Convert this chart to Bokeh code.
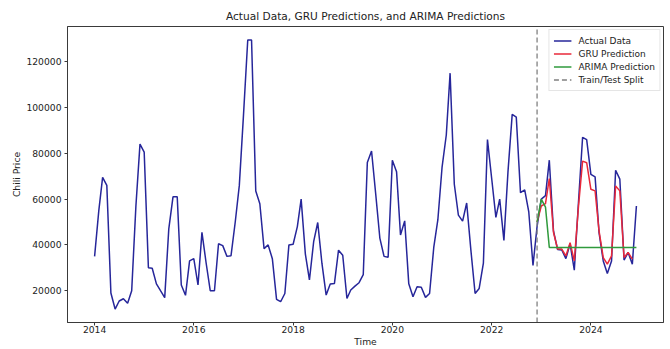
import pandas as pd
from bokeh.plotting import figure
from bokeh.models import (Range1d, FixedTicker, DatetimeTickFormatter,
                          NumeralTickFormatter, Legend, LegendItem)
from bokeh.embed import file_html
from bokeh.resources import INLINE

# Monthly chili price series, Jan 2014 - Dec 2024
first_month = "2014-01-01"
actual_price = [
    35000, 55000, 69500, 66000, 19000, 12000, 15500, 16500, 14500, 20000, 57000, 84000,
    80500, 30000, 29800, 23000, 20000, 17000, 47000, 61000, 61000, 22500, 18000, 33000,
    34000, 22500, 45500, 32000, 20000, 20000, 40500, 39700, 35000, 35300, 50000, 66000,
    97000, 129500, 129500, 63500, 58000, 38400, 40000, 34000, 16200, 15200, 18800, 40000,
    40300, 48000, 60000, 36000, 24700, 41400, 49800, 31900, 18100, 22900, 23200, 37700,
    35500, 16600, 20300, 22000, 23500, 27000, 76000, 81000, 62000, 43000, 35000, 34600,
    77000, 72000, 44300, 50500, 23000, 17400, 21700, 21500, 17100, 18800, 39000, 51000,
    74000, 88000, 115000, 66500, 53000, 50400, 58300, 37700, 18800, 21000, 32000, 86000,
    69000, 52000, 60000, 42000, 72000, 97000, 95800, 62800, 64000, 54400, 31000, 48000,
    60000, 61500, 77000, 46000, 38000, 37800, 34000, 40500, 29000, 58000, 87000, 86000,
    70800, 69700, 45400, 33000, 27500, 33000, 72600, 68700, 33400, 36700, 31600, 57000,
]

# Test-period forecasts
forecast_start = "2022-12-01"
gru_prediction = [
    50000, 57000, 58000, 69000, 45400, 38200, 38200, 35200, 41000, 33000, 56300, 76600,
    75900, 64300, 63600, 46100, 34500, 31600, 35200, 65700, 63600, 34500, 36700, 33800,
]
arima_prediction = [
    50000, 60000, 56500, 38900, 38900, 38900, 38900, 38900, 38900, 38900, 38900, 38900,
    38900, 38900, 38900, 38900, 38900, 38900, 38900, 38900, 38900, 38900, 38900, 38900,
    38900,
]

split_date = "2022-12-01"
year_ticks = [2014, 2016, 2018, 2020, 2022, 2024]
price_ticks = [20000, 40000, 60000, 80000, 100000, 120000]

dates = pd.date_range(first_month, periods=len(actual_price), freq="MS")
gru_dates = pd.date_range(forecast_start, periods=len(gru_prediction), freq="MS")
arima_dates = pd.date_range(forecast_start, periods=len(arima_prediction), freq="MS")

# 5% padding around the data on both axes
x_pad = (dates[-1] - dates[0]) * 0.05
x_lo, x_hi = dates[0] - x_pad, dates[-1] + x_pad
y_min, y_max = min(actual_price), max(actual_price)
y_pad = (y_max - y_min) * 0.05
y_lo, y_hi = y_min - y_pad, y_max + y_pad

FONT = "DejaVu Sans"
INK = "#222222"
FRAME = "#3a3a3a"

p = figure(width=670, height=349, x_axis_type="datetime",
           output_backend="svg", toolbar_location=None,
           x_range=Range1d(x_lo, x_hi), y_range=Range1d(y_lo, y_hi),
           min_border_left=67, min_border_right=7,
           min_border_top=26, min_border_bottom=26,
           background_fill_color="white", border_fill_color="white")

p.title.text = "Actual Data, GRU Predictions, and ARIMA Predictions"
p.title.align = "center"
p.title.text_font = FONT
p.title.text_font_size = "10.6px"
p.title.text_font_style = "normal"
p.title.text_color = INK

p.xgrid.visible = False
p.ygrid.visible = False
p.outline_line_color = FRAME
p.outline_line_width = 1

p.xaxis.ticker = FixedTicker(ticks=[pd.Timestamp(f"{y}-01-01").timestamp() * 1000
                                    for y in year_ticks])
p.xaxis.formatter = DatetimeTickFormatter(years="%Y", months="%Y", days="%Y",
                                          hours="%Y", minutes="%Y")
p.yaxis.ticker = FixedTicker(ticks=price_ticks)
p.yaxis.formatter = NumeralTickFormatter(format="0")
p.xaxis.axis_label = "Time"
p.yaxis.axis_label = "Chili Price"

for ax in (p.xaxis[0], p.yaxis[0]):
    ax.axis_line_color = FRAME
    ax.major_tick_line_color = FRAME
    ax.major_tick_in = 0
    ax.major_tick_out = 3
    ax.minor_tick_line_color = None
    ax.major_label_text_font = FONT
    ax.major_label_text_font_size = "9.2px"
    ax.major_label_text_color = INK
    ax.axis_label_text_font = FONT
    ax.axis_label_text_font_size = "9.2px"
    ax.axis_label_text_font_style = "normal"
    ax.axis_label_text_color = INK

# tight bottom band: tick labels and "Time" sit close under the frame
p.xaxis.major_label_standoff = 0
p.xaxis.axis_label_standoff = 0
p.yaxis.major_label_standoff = 3
p.yaxis.axis_label_standoff = 1

r_actual = p.line(dates, actual_price, line_color="#26269a", line_width=1.5)
r_gru = p.line(gru_dates, gru_prediction, line_color="#e8283a", line_width=1.5)
r_arima = p.line(arima_dates, arima_prediction, line_color="#2f9a3c", line_width=1.5)
split_x = pd.Timestamp(split_date)
r_split = p.segment(x0=[split_x], y0=[y_lo], x1=[split_x], y1=[y_hi],
                    line_color="#808080", line_width=1.3, line_dash="5 3")

legend = Legend(items=[
    LegendItem(label="Actual Data", renderers=[r_actual]),
    LegendItem(label="GRU Prediction", renderers=[r_gru]),
    LegendItem(label="ARIMA Prediction", renderers=[r_arima]),
    LegendItem(label="Train/Test Split", renderers=[r_split]),
], location="top_right")
legend.margin = 3
legend.padding = 4
legend.spacing = 0
legend.label_height = 13
legend.glyph_height = 13
legend.glyph_width = 18
legend.label_standoff = 7
legend.label_text_font = FONT
legend.label_text_font_size = "9px"
legend.label_text_color = INK
legend.border_line_color = "#cccccc"
legend.background_fill_color = "white"
legend.background_fill_alpha = 0.8
p.add_layout(legend)

open("out.html", "w").write(file_html(p, INLINE))
